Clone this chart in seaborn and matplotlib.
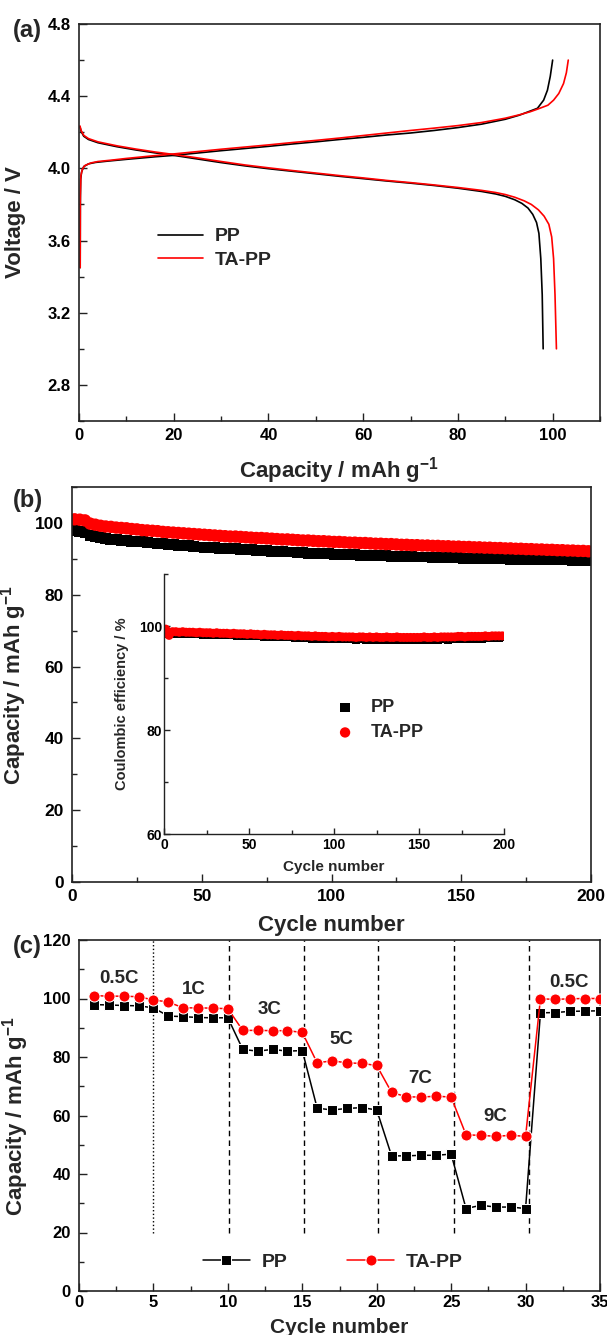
import numpy as np
import pandas as pd
import matplotlib
matplotlib.use("Agg")
import matplotlib.pyplot as plt
import seaborn as sns
from matplotlib.ticker import MultipleLocator

# ---------------- data: panel (a) charge/discharge ----------------
pp_chg_cap = [0.25, 0.28, 0.35, 0.55, 1.0, 2.0, 3.5, 6, 10, 16, 20, 25, 30, 35, 40, 45, 50, 55, 60, 65,
              70, 75, 80, 85, 90, 93, 95, 96.8, 98.1, 98.9, 99.5, 100.0]
pp_chg_v = [3.45, 3.80, 3.94, 3.98, 4.010, 4.025, 4.033, 4.040, 4.050, 4.064, 4.072, 4.085, 4.098,
            4.110, 4.122, 4.135, 4.147, 4.160, 4.172, 4.185, 4.196, 4.210, 4.226, 4.245, 4.272,
            4.295, 4.315, 4.333, 4.378, 4.433, 4.51, 4.60]
ta_chg_cap = [0.25, 0.28, 0.4, 0.7, 1.2, 2.5, 4, 7, 10, 15, 20, 25, 30, 35, 40, 45, 50, 55, 60, 65,
              70, 75, 80, 85, 90, 93, 95.3, 97, 99, 100.2, 101.3, 102.3, 102.9, 103.3]
ta_chg_v = [3.45, 3.85, 3.96, 3.995, 4.015, 4.030, 4.038, 4.046, 4.055, 4.068, 4.080, 4.093, 4.106,
            4.118, 4.130, 4.143, 4.155, 4.168, 4.182, 4.196, 4.210, 4.223, 4.237, 4.254, 4.278,
            4.297, 4.314, 4.330, 4.350, 4.378, 4.415, 4.47, 4.53, 4.60]
pp_dis_cap = [0.2, 0.45, 1.0, 2, 4, 8, 12, 16, 20, 25, 30, 35, 40, 45, 50, 55, 60, 65, 70, 75, 80, 85,
              88, 90, 92, 93.5, 94.8, 95.8, 96.6, 97.1, 97.5, 97.8, 98.0]
pp_dis_v = [4.23, 4.205, 4.178, 4.160, 4.142, 4.120, 4.102, 4.086, 4.072, 4.052, 4.032, 4.014, 3.998,
            3.984, 3.970, 3.956, 3.943, 3.930, 3.918, 3.905, 3.890, 3.872, 3.858, 3.845, 3.826,
            3.806, 3.780, 3.745, 3.70, 3.64, 3.50, 3.30, 3.00]
ta_dis_cap = [0.2, 0.45, 1, 2, 4, 8, 12, 16, 20, 25, 30, 35, 40, 45, 50, 55, 60, 65, 70, 75, 80, 85,
              88, 90, 92, 94, 95.5, 97, 98.2, 99.2, 99.8, 100.2, 100.5, 100.8]
ta_dis_v = [4.235, 4.21, 4.183, 4.165, 4.147, 4.125, 4.107, 4.091, 4.077, 4.058, 4.038, 4.019, 4.003,
            3.988, 3.974, 3.960, 3.947, 3.933, 3.921, 3.908, 3.894, 3.878, 3.866, 3.855, 3.840,
            3.820, 3.800, 3.770, 3.735, 3.69, 3.62, 3.50, 3.30, 3.00]

# ---------------- data: panel (b) cycling (every 2nd cycle) ----------------
cycles_b = list(range(1, 200, 2))
pp_cap_b = [97.9, 97.7, 97.4, 96.6, 96.2, 95.9, 95.7, 95.5, 95.4, 95.2,
            95.1, 94.9, 94.8, 94.7, 94.5, 94.4, 94.3, 94.2, 94.0, 93.9,
            93.8, 93.7, 93.6, 93.5, 93.3, 93.2, 93.2, 93.1, 93.0, 92.9,
            92.8, 92.8, 92.6, 92.5, 92.5, 92.3, 92.2, 92.2, 92.1, 92.0,
            92.0, 91.9, 91.9, 91.8, 91.7, 91.6, 91.6, 91.5, 91.4, 91.4,
            91.3, 91.3, 91.2, 91.1, 91.1, 91.0, 91.0, 90.9, 90.9, 90.8,
            90.8, 90.7, 90.7, 90.6, 90.6, 90.6, 90.5, 90.5, 90.5, 90.4,
            90.4, 90.4, 90.3, 90.3, 90.3, 90.2, 90.2, 90.2, 90.1, 90.1,
            90.1, 90.0, 90.0, 90.0, 89.9, 89.9, 89.9, 89.9, 89.8, 89.8,
            89.8, 89.8, 89.7, 89.7, 89.7, 89.7, 89.6, 89.6, 89.6, 89.6]
ta_cap_b = [101.0, 100.9, 100.7, 99.8, 99.5, 99.2, 99.0, 98.9, 98.7, 98.6,
            98.5, 98.3, 98.2, 98.0, 97.9, 97.8, 97.7, 97.5, 97.4, 97.3,
            97.2, 97.1, 97.0, 96.9, 96.8, 96.7, 96.6, 96.5, 96.4, 96.3,
            96.2, 96.2, 96.1, 96.0, 95.9, 95.8, 95.8, 95.7, 95.6, 95.5,
            95.4, 95.4, 95.3, 95.2, 95.1, 95.1, 95.0, 94.9, 94.9, 94.8,
            94.7, 94.7, 94.6, 94.5, 94.5, 94.4, 94.4, 94.3, 94.2, 94.2,
            94.1, 94.1, 94.0, 93.9, 93.9, 93.8, 93.8, 93.7, 93.7, 93.6,
            93.6, 93.5, 93.5, 93.4, 93.4, 93.3, 93.3, 93.2, 93.2, 93.1,
            93.1, 93.0, 93.0, 92.9, 92.9, 92.8, 92.8, 92.7, 92.7, 92.6,
            92.6, 92.5, 92.5, 92.4, 92.4, 92.3, 92.3, 92.2, 92.2, 92.1]
pp_ce = [98.6, 98.4, 98.5, 98.5, 98.5, 98.4, 98.5, 98.4, 98.4, 98.4,
         98.4, 98.3, 98.4, 98.3, 98.3, 98.3, 98.2, 98.3, 98.2, 98.2,
         98.2, 98.1, 98.2, 98.1, 98.1, 98.0, 98.1, 98.0, 98.0, 97.9,
         98.0, 97.9, 97.9, 97.8, 97.9, 97.8, 97.8, 97.8, 97.7, 97.8,
         97.7, 97.7, 97.7, 97.6, 97.7, 97.6, 97.6, 97.6, 97.5, 97.6,
         97.5, 97.6, 97.5, 97.5, 97.5, 97.5, 97.4, 97.5, 97.5, 97.4,
         97.5, 97.4, 97.5, 97.4, 97.4, 97.5, 97.4, 97.4, 97.5, 97.4,
         97.4, 97.4, 97.3, 97.4, 97.4, 97.4, 97.5, 97.4, 97.4, 97.5,
         97.4, 97.5, 97.5, 97.4, 97.5, 97.5, 97.5, 97.6, 97.5, 97.6,
         97.6, 97.6, 97.7, 97.6, 97.7, 97.7, 97.7, 97.8, 97.7, 97.8]
ta_ce = [99.4, 98.2, 98.9, 98.9, 98.8, 98.9, 98.8, 98.8, 98.8, 98.7,
         98.8, 98.7, 98.7, 98.7, 98.6, 98.7, 98.6, 98.6, 98.6, 98.5,
         98.6, 98.5, 98.5, 98.5, 98.4, 98.5, 98.4, 98.4, 98.3, 98.4,
         98.3, 98.3, 98.3, 98.2, 98.3, 98.2, 98.2, 98.2, 98.1, 98.2,
         98.1, 98.1, 98.1, 98.0, 98.1, 98.0, 98.0, 98.0, 97.9, 98.0,
         97.9, 98.0, 97.9, 97.9, 97.9, 97.9, 97.8, 97.9, 97.9, 97.8,
         97.9, 97.8, 97.9, 97.8, 97.8, 97.9, 97.8, 97.8, 97.9, 97.8,
         97.8, 97.8, 97.8, 97.8, 97.8, 97.8, 97.9, 97.8, 97.8, 97.9,
         97.8, 97.9, 97.9, 97.9, 97.9, 97.9, 98.0, 98.0, 97.9, 98.0,
         98.0, 98.0, 98.0, 98.0, 98.1, 98.0, 98.1, 98.1, 98.1, 98.1]

# ---------------- data: panel (c) rate capability ----------------
cycles_c = list(range(1, 36))
pp_rate = [97.9, 97.8, 97.6, 97.5, 96.8, 94.0, 93.8, 93.5, 93.4, 93.4,
           82.6, 82.0, 82.6, 82.0, 82.2, 62.5, 61.9, 62.4, 62.7, 61.9,
           46.2, 46.2, 46.4, 46.4, 46.8, 28.2, 29.3, 28.7, 28.7, 28.2,
           95.1, 95.2, 95.6, 95.7, 95.8]
ta_rate = [101.0, 100.8, 100.8, 100.6, 99.5, 98.8, 96.8, 96.8, 96.7, 96.5,
           89.1, 89.1, 89.0, 89.0, 88.4, 78.0, 78.7, 78.0, 77.8, 77.1,
           67.9, 66.4, 66.3, 66.6, 66.3, 53.4, 53.2, 52.9, 53.2, 52.9,
           99.9, 99.7, 99.9, 100.0, 100.0]
rate_labels = ["0.5C", "1C", "3C", "5C", "7C", "9C", "0.5C"]
rate_label_x = [2.7, 7.7, 12.8, 17.6, 22.9, 28.0, 32.9]
rate_label_y = [107.0, 103.2, 96.4, 86.1, 72.8, 59.5, 105.6]
rate_bounds = [5, 10.1, 15.1, 20.1, 25.2, 30.2]

# ---------------- style ----------------
sns.set_theme(style="ticks")
plt.rcParams["font.family"] = ["Liberation Sans", "DejaVu Sans"]
plt.rcParams["font.weight"] = "bold"
plt.rcParams["axes.labelweight"] = "bold"
plt.rcParams["mathtext.fontset"] = "custom"
plt.rcParams["mathtext.rm"] = "Liberation Sans:bold"
plt.rcParams["mathtext.bf"] = "Liberation Sans:bold"
plt.rcParams["mathtext.default"] = "rm"

W, H = 607, 1335
fig = plt.figure(figsize=(W / 100, H / 100), dpi=100)


def box(l, t, r, b):
    return [l / W, 1 - b / H, (r - l) / W, (b - t) / H]


axA = fig.add_axes(box(79, 24, 600, 421))
axB = fig.add_axes(box(72, 487, 591, 882))
axC = fig.add_axes(box(79, 940, 600, 1291))
axI = fig.add_axes(box(164, 574, 504, 834))
axI.patch.set_alpha(0)


def style(ax, lab=12, spine_lw=1.2, xpad=5, ypad=6, maj=6, mnr=3.5):
    ax.tick_params(which="both", direction="in", top=False, right=False,
                   width=1.0, color="#222222", labelcolor="black", labelsize=lab)
    ax.tick_params(which="major", length=maj)
    ax.tick_params(which="minor", length=mnr)
    ax.tick_params(axis="x", pad=xpad)
    ax.tick_params(axis="y", pad=ypad)
    for s in ax.spines.values():
        s.set_linewidth(spine_lw)
        s.set_color("#222222")
    for t in ax.get_xticklabels() + ax.get_yticklabels():
        t.set_fontweight("bold")


# ---------------- panel (a) ----------------
sns.lineplot(x=pp_chg_cap, y=pp_chg_v, ax=axA, color="black", lw=1.2, sort=False,
             estimator=None, label="PP")
sns.lineplot(x=pp_dis_cap, y=pp_dis_v, ax=axA, color="black", lw=1.2, sort=False,
             estimator=None)
sns.lineplot(x=ta_chg_cap, y=ta_chg_v, ax=axA, color="#ff0000", lw=1.2, sort=False,
             estimator=None, label="TA-PP")
sns.lineplot(x=ta_dis_cap, y=ta_dis_v, ax=axA, color="#ff0000", lw=1.2, sort=False,
             estimator=None)
axA.set_xlim(0, 110)
axA.set_ylim(2.6, 4.8)
axA.xaxis.set_major_locator(MultipleLocator(20))
axA.xaxis.set_minor_locator(MultipleLocator(10))
axA.yaxis.set_major_locator(MultipleLocator(0.4))
axA.yaxis.set_minor_locator(MultipleLocator(0.2))
axA.yaxis.set_major_formatter(matplotlib.ticker.FormatStrFormatter("%.1f"))
style(axA, lab=12)
axA.set_xlabel(r"Capacity / mAh g$^{-1}$", fontsize=16, fontweight="bold")
axA.set_ylabel("Voltage / V", fontsize=16, fontweight="bold")
axA.xaxis.set_label_coords(0.5, -0.086)
axA.yaxis.set_label_coords(-0.102, 0.5)
axA.legend(loc="center left", bbox_to_anchor=(0.152, 0.435), frameon=False,
           prop={"size": 14, "weight": "bold"}, handlelength=2.3, handletextpad=0.6,
           labelspacing=0.3, borderpad=0, borderaxespad=0)

# ---------------- panel (b) ----------------
sns.scatterplot(x=cycles_b, y=pp_cap_b, ax=axB, marker="s", color="black", s=62,
                edgecolor="none", legend=False)
sns.scatterplot(x=cycles_b, y=ta_cap_b, ax=axB, marker="o", color="#ff0000", s=80,
                edgecolor="none", legend=False)
axB.set_xlim(0, 200)
axB.set_ylim(0, 110)
axB.xaxis.set_major_locator(MultipleLocator(50))
axB.xaxis.set_minor_locator(MultipleLocator(25))
axB.yaxis.set_major_locator(MultipleLocator(20))
axB.yaxis.set_minor_locator(MultipleLocator(10))
style(axB, lab=12.5)
axB.set_xlabel("Cycle number", fontsize=16, fontweight="bold")
axB.set_ylabel(r"Capacity / mAh g$^{-1}$", fontsize=16, fontweight="bold")
axB.xaxis.set_label_coords(0.5, -0.084)
axB.yaxis.set_label_coords(-0.083, 0.5)

# inset
sns.scatterplot(x=cycles_b, y=pp_ce, ax=axI, marker="s", color="black", s=34,
                edgecolor="none", label="PP")
sns.scatterplot(x=cycles_b, y=ta_ce, ax=axI, marker="o", color="#ff0000", s=42,
                edgecolor="none", label="TA-PP")
axI.set_xlim(0, 200)
axI.set_ylim(60, 110)
axI.xaxis.set_major_locator(MultipleLocator(50))
axI.xaxis.set_minor_locator(MultipleLocator(25))
axI.yaxis.set_major_locator(MultipleLocator(20))
axI.yaxis.set_minor_locator(MultipleLocator(10))
axI.set_yticks([60, 80, 100])
style(axI, lab=10, spine_lw=1.0, xpad=3, ypad=1.5, maj=4.5, mnr=3)
axI.spines["top"].set_visible(False)
axI.spines["right"].set_visible(False)
axI.set_xlabel("Cycle number", fontsize=11, fontweight="bold")
axI.set_ylabel("Coulombic efficiency / %", fontsize=10.5, fontweight="bold")
axI.xaxis.set_label_coords(0.5, -0.10)
axI.yaxis.set_label_coords(-0.103, 0.5)
axI.legend(loc="center left", bbox_to_anchor=(0.506, 0.438), frameon=False,
           prop={"size": 13, "weight": "bold"}, handlelength=1.0, handletextpad=0.9,
           labelspacing=0.45, borderpad=0, borderaxespad=0, markerscale=1.15)

# ---------------- panel (c) ----------------
for i, xb in enumerate(rate_bounds):
    axC.vlines(xb, 20, 120, colors="black", lw=1.0,
               linestyles=(":" if i == 0 else (0, (4, 3))), zorder=1)
sns.lineplot(x=cycles_c, y=pp_rate, ax=axC, color="black", lw=1.1, marker="s",
             markersize=7, sort=False, estimator=None, label="PP", zorder=3)
sns.lineplot(x=cycles_c, y=ta_rate, ax=axC, color="#ff0000", lw=1.1, marker="o",
             markersize=8, sort=False, estimator=None, label="TA-PP", zorder=4)
for lab, xx, yy in zip(rate_labels, rate_label_x, rate_label_y):
    axC.text(xx, yy, lab, fontsize=13.5, fontweight="bold", ha="center", va="center")
axC.set_xlim(0, 35)
axC.set_ylim(0, 120)
axC.xaxis.set_major_locator(MultipleLocator(5))
axC.xaxis.set_minor_locator(MultipleLocator(2.5))
axC.yaxis.set_major_locator(MultipleLocator(20))
axC.yaxis.set_minor_locator(MultipleLocator(10))
style(axC, lab=12, xpad=3)
axC.set_xlabel("Cycle number", fontsize=15, fontweight="bold")
axC.set_ylabel(r"Capacity / mAh g$^{-1}$", fontsize=16, fontweight="bold")
axC.xaxis.set_label_coords(0.5, -0.077)
axC.yaxis.set_label_coords(-0.092, 0.5)
axC.legend(loc="center left", bbox_to_anchor=(0.238, 0.083), frameon=False, ncol=2,
           prop={"size": 14, "weight": "bold"}, handlelength=2.4, handletextpad=0.6,
           columnspacing=3.1, borderpad=0, borderaxespad=0, numpoints=1)

# panel letters
for lab, yy in zip(["(a)", "(b)", "(c)"], [30, 501, 947]):
    fig.text(13 / W, 1 - yy / H, lab, fontsize=17, fontweight="bold", ha="left", va="center")

fig.savefig("out.png", dpi=100)
